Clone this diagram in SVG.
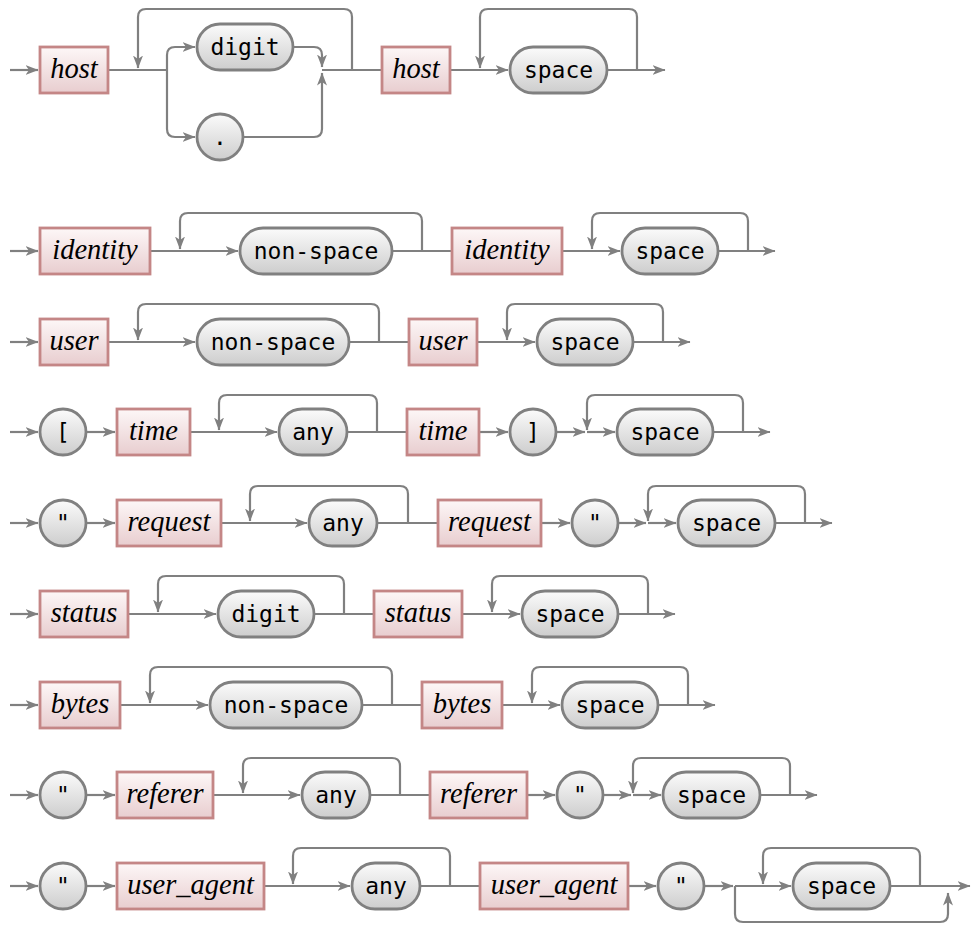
<svg xmlns="http://www.w3.org/2000/svg" width="972" height="925" viewBox="0 0 972 925">
<defs>
<linearGradient id="gN" x1="0" y1="0" x2="0" y2="1"><stop offset="0" stop-color="#fdf7f7"/><stop offset="1" stop-color="#e8cdcf"/></linearGradient>
<linearGradient id="gT" x1="0" y1="0" x2="0" y2="1"><stop offset="0" stop-color="#fbfbfb"/><stop offset="1" stop-color="#cdcdcd"/></linearGradient>
<marker id="arr" markerUnits="userSpaceOnUse" markerWidth="14" markerHeight="12" refX="12.5" refY="6" orient="auto"><path d="M0,1 L13,6 L0,11 L3.5,6 z" fill="#808080"/></marker>
<style>
.nt rect{fill:url(#gN);stroke:#c48686;stroke-width:2.8}
.nt text{font-family:"Liberation Serif",serif;font-style:italic;font-size:28.5px;text-anchor:middle;fill:#000}
.t rect,.t circle{fill:url(#gT);stroke:#808080;stroke-width:2.8}
.t text{font-family:"DejaVu Sans Mono",monospace;font-size:23px;text-anchor:middle;fill:#000}
#connectors path{fill:none;stroke:#808080;stroke-width:2.2}
#connectors .a{marker-end:url(#arr)}
</style>
</defs>
<g id="connectors">
<!-- row 1 -->
<path class="a" d="M10,70 H38"/>
<path d="M108,70 H167"/>
<path class="a" d="M167,70 V55 Q167,47 175,47 H195"/>
<path class="a" d="M167,70 V129 Q167,137 175,137 H195"/>
<path class="a" d="M293,47 H314 Q322,47 322,55 V67"/>
<path class="a" d="M243,137 H314 Q322,137 322,129 V73"/>
<path d="M322,70 H382"/>
<path class="a" d="M352,70 V17 Q352,9 344,9 H146 Q138,9 138,17 V68"/>
<path class="a" d="M450,70 H508"/>
<path class="a" d="M637,70 V17 Q637,9 629,9 H488 Q480,9 480,17 V68"/>
<path class="a" d="M607,70 H665"/>
<!-- row 2 -->
<path class="a" d="M10,251 H38"/>
<path class="a" d="M150,251 H238"/>
<path class="a" d="M422,251 V221 Q422,213 414,213 H188 Q180,213 180,221 V249"/>
<path d="M392,251 H452"/>
<path class="a" d="M562,251 H620"/>
<path class="a" d="M748,251 V221 Q748,213 740,213 H600 Q592,213 592,221 V249"/>
<path class="a" d="M718,251 H775"/>
<!-- row 3 -->
<path class="a" d="M10,342 H38"/>
<path class="a" d="M108,342 H195"/>
<path class="a" d="M379,342 V312 Q379,304 371,304 H146 Q138,304 138,312 V340"/>
<path d="M349,342 H409"/>
<path class="a" d="M477,342 H535"/>
<path class="a" d="M663,342 V312 Q663,304 655,304 H515 Q507,304 507,312 V340"/>
<path class="a" d="M633,342 H690"/>
<!-- row 4 -->
<path class="a" d="M10,432 H38"/>
<path class="a" d="M86,432 H115"/>
<path class="a" d="M190,432 H277"/>
<path class="a" d="M377,432 V403 Q377,395 369,395 H227 Q219,395 219,403 V430"/>
<path d="M347,432 H407"/>
<path class="a" d="M479,432 H508"/>
<path class="a" d="M556,432 H585"/>
<path class="a" d="M587,432 H615"/>
<path class="a" d="M743,432 V403 Q743,395 735,395 H595 Q587,395 587,403 V430"/>
<path class="a" d="M713,432 H770"/>
<!-- row 5 -->
<path class="a" d="M10,523 H38"/>
<path class="a" d="M86,523 H115"/>
<path class="a" d="M221,523 H307"/>
<path class="a" d="M408,523 V494 Q408,486 400,486 H258 Q250,486 250,494 V521"/>
<path d="M377,523 H438"/>
<path class="a" d="M541,523 H570"/>
<path class="a" d="M618,523 H646"/>
<path class="a" d="M648,523 H676"/>
<path class="a" d="M805,523 V494 Q805,486 797,486 H656 Q648,486 648,494 V521"/>
<path class="a" d="M775,523 H832"/>
<!-- row 6 -->
<path class="a" d="M10,614 H38"/>
<path class="a" d="M128,614 H216"/>
<path class="a" d="M344,614 V584 Q344,576 336,576 H166 Q158,576 158,584 V612"/>
<path d="M314,614 H374"/>
<path class="a" d="M462,614 H520"/>
<path class="a" d="M648,614 V584 Q648,576 640,576 H500 Q492,576 492,584 V612"/>
<path class="a" d="M618,614 H675"/>
<!-- row 7 -->
<path class="a" d="M10,705 H38"/>
<path class="a" d="M120,705 H208"/>
<path class="a" d="M392,705 V675 Q392,667 384,667 H158 Q150,667 150,675 V703"/>
<path d="M362,705 H422"/>
<path class="a" d="M502,705 H560"/>
<path class="a" d="M688,705 V675 Q688,667 680,667 H540 Q532,667 532,675 V703"/>
<path class="a" d="M658,705 H715"/>
<!-- row 8 -->
<path class="a" d="M10,795 H38"/>
<path class="a" d="M86,795 H115"/>
<path class="a" d="M213,795 H300"/>
<path class="a" d="M400,795 V766 Q400,758 392,758 H251 Q243,758 243,766 V793"/>
<path d="M370,795 H430"/>
<path class="a" d="M527,795 H555"/>
<path class="a" d="M603,795 H631"/>
<path class="a" d="M633,795 H661"/>
<path class="a" d="M790,795 V766 Q790,758 782,758 H641 Q633,758 633,766 V793"/>
<path class="a" d="M760,795 H817"/>
<!-- row 9 -->
<path class="a" d="M10,886 H38"/>
<path class="a" d="M86,886 H115"/>
<path class="a" d="M264,886 H350"/>
<path class="a" d="M450,886 V856 Q450,848 442,848 H301 Q293,848 293,856 V884"/>
<path d="M420,886 H480"/>
<path class="a" d="M628,886 H656"/>
<path class="a" d="M704,886 H733"/>
<path class="a" d="M735,886 H791"/>
<path class="a" d="M920,886 V856 Q920,848 912,848 H771 Q763,848 763,856 V884"/>
<path class="a" d="M735,886 V914 Q735,922 743,922 H940 Q948,922 948,914 V893"/>
<path class="a" d="M890,886 H970"/>
</g>
<!-- row 1 nodes -->
<g id="r1-host" class="nt"><rect x="40" y="47" width="68" height="46"/><text x="74" y="78">host</text></g>
<g id="r1-digit" class="t"><rect x="197" y="24" width="96" height="46" rx="23"/><text x="245" y="55">digit</text></g>
<g id="r1-dot" class="t"><circle cx="220" cy="137" r="23"/><text x="220" y="145">.</text></g>
<g id="r1-host2" class="nt"><rect x="382" y="47" width="68" height="46"/><text x="416" y="78">host</text></g>
<g id="r1-space" class="t"><rect x="510" y="47" width="97" height="46" rx="23"/><text x="558.5" y="77.5">space</text></g>
<!-- row 2 -->
<g id="r2-identity" class="nt"><rect x="40" y="228" width="110" height="46"/><text x="95" y="259">identity</text></g>
<g id="r2-nonspace" class="t"><rect x="240" y="228" width="152" height="46" rx="23"/><text x="316" y="258.5">non-space</text></g>
<g id="r2-identity2" class="nt"><rect x="452" y="228" width="110" height="46"/><text x="507" y="259">identity</text></g>
<g id="r2-space" class="t"><rect x="622" y="228" width="96" height="46" rx="23"/><text x="670" y="258.5">space</text></g>
<!-- row 3 -->
<g id="r3-user" class="nt"><rect x="40" y="319" width="68" height="46"/><text x="74" y="350">user</text></g>
<g id="r3-nonspace" class="t"><rect x="197" y="319" width="152" height="46" rx="23"/><text x="273" y="349.5">non-space</text></g>
<g id="r3-user2" class="nt"><rect x="409" y="319" width="68" height="46"/><text x="443" y="350">user</text></g>
<g id="r3-space" class="t"><rect x="537" y="319" width="96" height="46" rx="23"/><text x="585" y="349.5">space</text></g>
<!-- row 4 -->
<g id="r4-lbracket" class="t"><circle cx="63" cy="432" r="23"/><text x="63" y="440">[</text></g>
<g id="r4-time" class="nt"><rect x="117" y="409" width="73" height="46"/><text x="153.5" y="440">time</text></g>
<g id="r4-any" class="t"><rect x="279" y="409" width="68" height="46" rx="23"/><text x="313" y="439.5">any</text></g>
<g id="r4-time2" class="nt"><rect x="407" y="409" width="72" height="46"/><text x="443" y="440">time</text></g>
<g id="r4-rbracket" class="t"><circle cx="533" cy="432" r="23"/><text x="533" y="440">]</text></g>
<g id="r4-space" class="t"><rect x="617" y="409" width="96" height="46" rx="23"/><text x="665" y="439.5">space</text></g>
<!-- row 5 -->
<g id="r5-quote" class="t"><circle cx="63" cy="523" r="23"/><text x="63" y="531">"</text></g>
<g id="r5-request" class="nt"><rect x="117" y="500" width="104" height="46"/><text x="169" y="531">request</text></g>
<g id="r5-any" class="t"><rect x="309" y="500" width="68" height="46" rx="23"/><text x="343" y="530.5">any</text></g>
<g id="r5-request2" class="nt"><rect x="438" y="500" width="103" height="46"/><text x="489.5" y="531">request</text></g>
<g id="r5-quote2" class="t"><circle cx="595" cy="523" r="23"/><text x="595" y="531">"</text></g>
<g id="r5-space" class="t"><rect x="678" y="500" width="97" height="46" rx="23"/><text x="726.5" y="530.5">space</text></g>
<!-- row 6 -->
<g id="r6-status" class="nt"><rect x="40" y="591" width="88" height="46"/><text x="84" y="622">status</text></g>
<g id="r6-digit" class="t"><rect x="218" y="591" width="96" height="46" rx="23"/><text x="266" y="621.5">digit</text></g>
<g id="r6-status2" class="nt"><rect x="374" y="591" width="88" height="46"/><text x="418" y="622">status</text></g>
<g id="r6-space" class="t"><rect x="522" y="591" width="96" height="46" rx="23"/><text x="570" y="621.5">space</text></g>
<!-- row 7 -->
<g id="r7-bytes" class="nt"><rect x="40" y="682" width="80" height="46"/><text x="80" y="713">bytes</text></g>
<g id="r7-nonspace" class="t"><rect x="210" y="682" width="152" height="46" rx="23"/><text x="286" y="712.5">non-space</text></g>
<g id="r7-bytes2" class="nt"><rect x="422" y="682" width="80" height="46"/><text x="462" y="713">bytes</text></g>
<g id="r7-space" class="t"><rect x="562" y="682" width="96" height="46" rx="23"/><text x="610" y="712.5">space</text></g>
<!-- row 8 -->
<g id="r8-quote" class="t"><circle cx="63" cy="795" r="23"/><text x="63" y="803">"</text></g>
<g id="r8-referer" class="nt"><rect x="117" y="772" width="96" height="46"/><text x="165" y="803">referer</text></g>
<g id="r8-any" class="t"><rect x="302" y="772" width="68" height="46" rx="23"/><text x="336" y="802.5">any</text></g>
<g id="r8-referer2" class="nt"><rect x="430" y="772" width="97" height="46"/><text x="478.5" y="803">referer</text></g>
<g id="r8-quote2" class="t"><circle cx="580" cy="795" r="23"/><text x="580" y="803">"</text></g>
<g id="r8-space" class="t"><rect x="663" y="772" width="97" height="46" rx="23"/><text x="711.5" y="802.5">space</text></g>
<!-- row 9 -->
<g id="r9-quote" class="t"><circle cx="63" cy="886" r="23"/><text x="63" y="894">"</text></g>
<g id="r9-useragent" class="nt"><rect x="117" y="863" width="147" height="46"/><text x="190.5" y="894">user_agent</text></g>
<g id="r9-any" class="t"><rect x="352" y="863" width="68" height="46" rx="23"/><text x="386" y="893.5">any</text></g>
<g id="r9-useragent2" class="nt"><rect x="480" y="863" width="148" height="46"/><text x="554" y="894">user_agent</text></g>
<g id="r9-quote2" class="t"><circle cx="681" cy="886" r="23"/><text x="681" y="894">"</text></g>
<g id="r9-space" class="t"><rect x="793" y="863" width="97" height="46" rx="23"/><text x="841.5" y="893.5">space</text></g>
</svg>
